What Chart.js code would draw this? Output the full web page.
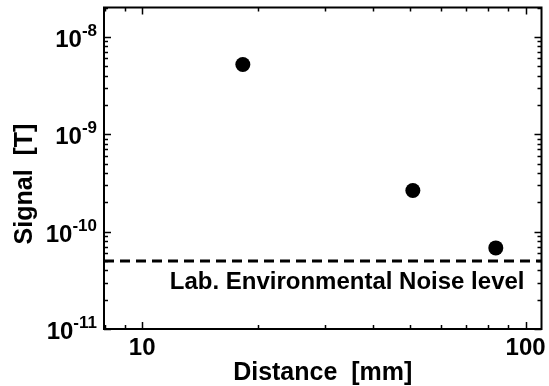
<!DOCTYPE html>
<html>
<head>
<meta charset="utf-8">
<script src="https://cdn.jsdelivr.net/npm/chart.js@4/dist/chart.umd.min.js"></script>
<style>
	body { margin: 0; background: #fff; }
	#wrap { width: 549px; height: 386px; }
</style>
</head>
<body>
<div id="wrap"><canvas id="signal-chart" width="549" height="386"></canvas></div>
<script>
// measured points (distance mm / signal T)
var distances = [18.3, 50.8, 83.6];
var signals = [5.2e-9, 2.64e-10, 6.8e-11];
// noise floor
var noiseLevel = 5e-11;
var noiseLabel = 'Lab. Environmental Noise level';
// axes
var xRange = [7.95, 110];
var yRange = [1e-11, 2e-8];
var xTickValues = [10, 100];
var yTickValues = [1e-11, 1e-10, 1e-9, 1e-8];
var xTitle = 'Distance  [mm]';
var yTitle = 'Signal  [T]';

var FONT = '"Liberation Sans", Arial, sans-serif';

/**
 * 프레임, 안쪽 눈금, 라벨 그리기
 */
var frameAxes = {
	id : 'frameAxes',
	afterDraw : function(chart) {
		var ctx = chart.ctx;
		var a = chart.chartArea;
		var xs = chart.scales.x;
		var ys = chart.scales.y;

		ctx.save();
		ctx.strokeStyle = '#000';
		ctx.fillStyle = '#000';
		ctx.lineWidth = 2;
		ctx.strokeRect(a.left, a.top, a.right - a.left, a.bottom - a.top);

		// log ticks (1..9 per decade)
		ctx.lineWidth = 1.5;
		function logTicks(min, max) {
			var out = [];
			for (var e = Math.floor(Math.log10(min)); e <= Math.ceil(Math.log10(max)); e++) {
				for (var m = 1; m < 10; m++) {
					var v = m * Math.pow(10, e);
					if (v >= min * 0.999 && v <= max * 1.001) out.push({ v : v, major : m === 1 });
				}
			}
			return out;
		}
		logTicks(xRange[0], xRange[1]).forEach(function(t) {
			var px = Math.round(xs.getPixelForValue(t.v)) + 0.5;
			var len = t.major ? 7 : 4;
			ctx.beginPath();
			ctx.moveTo(px, a.bottom); ctx.lineTo(px, a.bottom - len);
			ctx.moveTo(px, a.top); ctx.lineTo(px, a.top + len);
			ctx.stroke();
		});
		logTicks(yRange[0], yRange[1]).forEach(function(t) {
			var py = Math.round(ys.getPixelForValue(t.v)) + 0.5;
			var len = t.major ? 7 : 4;
			ctx.beginPath();
			ctx.moveTo(a.left, py); ctx.lineTo(a.left + len, py);
			ctx.moveTo(a.right, py); ctx.lineTo(a.right - len, py);
			ctx.stroke();
		});

		// y tick labels 10^n
		ctx.textBaseline = 'alphabetic';
		yTickValues.forEach(function(v) {
			var py = ys.getPixelForValue(v);
			var exp = String(Math.round(Math.log10(v)));
			ctx.font = 'bold 17px ' + FONT;
			var wSup = ctx.measureText(exp).width;
			ctx.font = 'bold 24px ' + FONT;
			var wBase = ctx.measureText('10').width;
			var right = a.left - 7;
			ctx.textAlign = 'left';
			ctx.fillText('10', right - wSup - wBase, py + 10);
			ctx.font = 'bold 17px ' + FONT;
			ctx.fillText(exp, right - wSup, py - 1);
		});

		// x tick labels
		ctx.font = 'bold 24px ' + FONT;
		ctx.textAlign = 'center';
		xTickValues.forEach(function(v) {
			ctx.fillText(String(v), xs.getPixelForValue(v), a.bottom + 26);
		});

		// axis titles
		ctx.font = 'bold 25px ' + FONT;
		ctx.fillText(xTitle, (a.left + a.right) / 2, a.bottom + 51);
		ctx.save();
		ctx.translate(32, 184);
		ctx.rotate(-Math.PI / 2);
		ctx.fillText(yTitle, 0, 0);
		ctx.restore();

		// noise label
		ctx.font = 'bold 24px ' + FONT;
		ctx.textAlign = 'right';
		ctx.fillText(noiseLabel, a.right - 17, ys.getPixelForValue(noiseLevel) + 28);

		ctx.restore();
	}
};

function createChart() {
	var points = distances.map(function(d, i) { return { x : d, y : signals[i] }; });
	var noiseLine = [ { x : xRange[0], y : noiseLevel }, { x : xRange[1], y : noiseLevel } ];

	new Chart(document.getElementById('signal-chart'), {
		type : 'scatter',
		data : {
			datasets : [ {
				label : 'Signal',
				data : points,
				pointRadius : 7.5,
				pointHoverRadius : 7.5,
				pointBackgroundColor : '#000',
				pointBorderColor : '#000',
				pointBorderWidth : 0,
				showLine : false,
			}, {
				label : noiseLabel,
				data : noiseLine,
				showLine : true,
				borderColor : '#000',
				borderWidth : 3,
				borderDash : [10, 6],
				pointRadius : 0,
				fill : false,
			} ],
		},
		options : {
			responsive : false,
			animation : false,
			layout : {
				padding : { left : 104, right : 6, top : 5, bottom : 57 }
			},
			plugins : {
				legend : { display : false },
				tooltip : { enabled : false },
			},
			scales : {
				x : { type : 'logarithmic', min : xRange[0], max : xRange[1], display : false },
				y : { type : 'logarithmic', min : yRange[0], max : yRange[1], display : false },
			},
		},
		plugins : [ frameAxes ],
	});
}

createChart();
</script>
</body>
</html>
